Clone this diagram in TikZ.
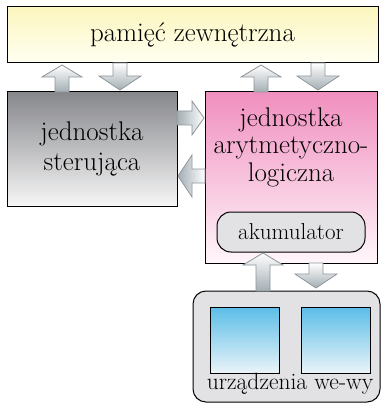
\documentclass[tikz,border=0pt]{standalone}
\usetikzlibrary{calc}
\definecolor{memtop}{HTML}{FBF6BE}
\definecolor{membot}{HTML}{FFFFF2}
\definecolor{ctltop}{HTML}{86878B}
\definecolor{ctlbot}{HTML}{F6F6F6}
\definecolor{alutop}{HTML}{F08FBF}
\definecolor{alubot}{HTML}{FFF6FA}
\definecolor{panel}{HTML}{E2E2E4}
\definecolor{scrtop}{HTML}{5BBDE8}
\definecolor{scrbot}{HTML}{EAF4F8}
\definecolor{arredge}{HTML}{8E959A}
\definecolor{arrdark}{HTML}{A3AEB4}
\tikzset{
  unitbox/.style={draw=black, line width=1pt, inner sep=0pt, align=center,
    font=\fontsize{27}{30}\selectfont},
  blk/.style={draw=arredge, line width=0.8pt, line join=miter},
  screen/.style={draw=black, line width=1pt, top color=scrtop, bottom color=scrbot},
}
% block arrows: centre line, tip, tail
\newcommand\arrUp[3]{\path[blk, top color=white, bottom color=arrdark]
  (#1,#2) -- (#1+20,#2+12) -- (#1+7,#2+12) -- (#1+7,#3) -- (#1-7,#3)
  -- (#1-7,#2+12) -- (#1-20,#2+12) -- cycle;}
\newcommand\arrDown[3]{\path[blk, top color=white, bottom color=arrdark]
  (#1,#2) -- (#1+21,#2-14) -- (#1+7,#2-14) -- (#1+7,#3) -- (#1-7,#3)
  -- (#1-7,#2-14) -- (#1-21,#2-14) -- cycle;}
\newcommand\arrRight[3]{\path[blk, left color=arrdark, right color=white]
  (#2,#1) -- (#2-12,#1-17) -- (#2-12,#1-7) -- (#3,#1-7) -- (#3,#1+7)
  -- (#2-12,#1+7) -- (#2-12,#1+17) -- cycle;}
\newcommand\arrLeft[3]{\path[blk, left color=arrdark, right color=white]
  (#2,#1) -- (#2+14,#1-21) -- (#2+14,#1-7) -- (#3,#1-7) -- (#3,#1+7)
  -- (#2+14,#1+7) -- (#2+14,#1+21) -- cycle;}
\begin{document}
\begin{tikzpicture}[x=1pt, y=-1pt]
\useasboundingbox (0,0) rectangle (382,403);

% units
\node[unitbox, top color=memtop, bottom color=membot,
  minimum width=371pt, minimum height=56pt] (mem) at (192.5,35) {pamięć zewnętrzna};
\node[unitbox, top color=ctltop, bottom color=ctlbot,
  minimum width=170pt, minimum height=114pt] (ctl) at (92,149) {};
\node[font=\fontsize{27}{29.5}\selectfont, align=center] (ctltext) at (92,149) {jednostka\\sterująca};
\node[unitbox, top color=alutop, bottom color=alubot,
  minimum width=172pt, minimum height=171pt] (alu) at (291,177.5) {};
\node[font=\fontsize{27}{27.5}\selectfont, align=center] (alutext) at (291,147) {jednostka\\arytmetyczno-\\logiczna};
\node[draw=black, line width=1pt, fill=panel, rounded corners=14pt,
  minimum width=148pt, minimum height=40pt, inner sep=0pt,
  font=\fontsize{23}{26}\selectfont] (acc) at (291,232) {akumulator};

% input/output devices
\node[draw=black, line width=1pt, fill=panel, rounded corners=13pt,
  minimum width=187pt, minimum height=111pt, inner sep=0pt] (io) at (286.5,346.5) {};
\node[screen, minimum width=69pt, minimum height=66pt, inner sep=0pt] (scr1) at (244.5,340) {};
\node[screen, minimum width=69pt, minimum height=66pt, inner sep=0pt] (scr2) at (335.5,340) {};
\node[font=\fontsize{23.5}{26}\selectfont] (iotext) at (290,384) {urządzenia we-wy};

% data flow
\arrUp{62}{65}{92}
\arrDown{120}{90}{63}
\arrUp{261}{65}{92}
\arrDown{318}{90}{63}
\arrRight{118}{204}{177}
\arrLeft{176}{178}{205}
\arrUp{263}{253}{291}
\arrDown{316}{288}{263}
\end{tikzpicture}
\end{document}
